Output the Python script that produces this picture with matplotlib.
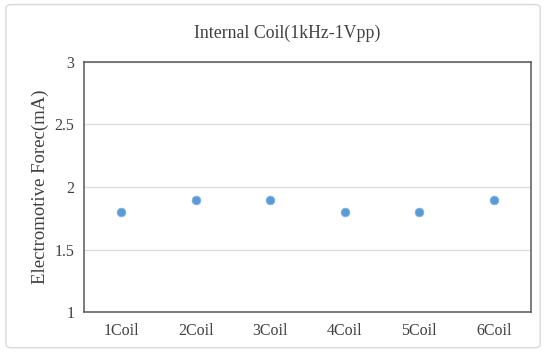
import matplotlib
matplotlib.use('Agg')
import matplotlib.pyplot as plt
from matplotlib.patches import FancyBboxPatch

plt.rcParams['font.family'] = ['Liberation Serif', 'DejaVu Serif']

coils = ['1Coil', '2Coil', '3Coil', '4Coil', '5Coil', '6Coil']
emf = [1.8, 1.9, 1.9, 1.8, 1.8, 1.9]
yticks = [1, 1.5, 2, 2.5, 3]
ytick_labels = ['1', '1.5', '2', '2.5', '3']

fig = plt.figure(figsize=(5.44, 3.52), dpi=100)

# chart frame, kept behind the axes
frame = FancyBboxPatch((0.011, 0.012), 0.982, 0.975, boxstyle='round,pad=0,rounding_size=0.01',
                       transform=fig.transFigure, facecolor='white', edgecolor='#D9D9D9',
                       linewidth=1, zorder=-10)
fig.add_artist(frame)

ax = fig.add_axes([0.1544, 0.1136, 0.8216, 0.7103])
ax.set_facecolor('white')

x = list(range(len(coils)))
ax.plot(x, emf, linestyle='none', marker='o', markersize=6.2,
        markerfacecolor='#5B9BD5', markeredgecolor='#7FB0DE', markeredgewidth=0.6, zorder=3)

ax.set_xlim(-0.5, len(coils) - 0.5)
ax.set_ylim(1, 3)
ax.set_yticks(yticks)
ax.set_yticklabels(ytick_labels)
ax.set_xticks(x)
ax.set_xticklabels(coils)
ax.grid(axis='y', color='#D9D9D9', linewidth=0.9)
ax.set_axisbelow(True)
ax.tick_params(length=0, labelsize=11.5, colors='#404040', pad=8)
ax.tick_params(axis='y', pad=7)
for s in ax.spines.values():
    s.set_color('#595959')
    s.set_linewidth(1.1)

ax.set_ylabel('Electromotive Forec(mA)', fontsize=13.5, color='#404040', labelpad=4)
fig.text(287 / 544, 1 - 33 / 352, 'Internal Coil(1kHz-1Vpp)', fontsize=12.8,
         color='#404040', ha='center', va='center')

fig.savefig('out.png', dpi=100)
